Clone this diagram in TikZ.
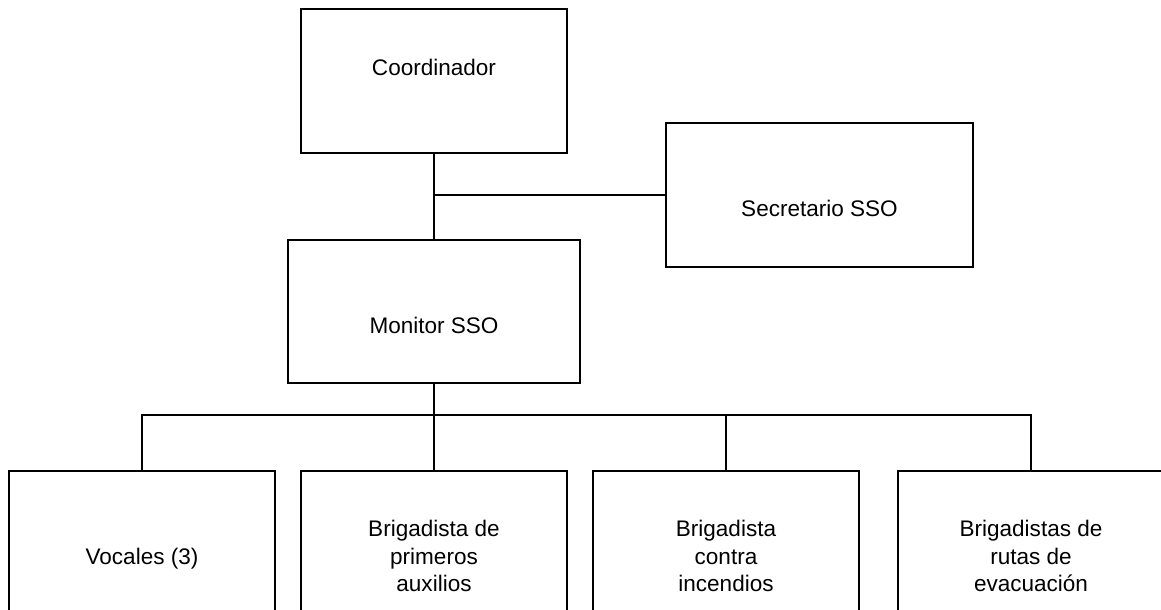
\documentclass[tikz,border=0pt]{standalone}
\usepackage{fontspec}
\setmainfont{Liberation Sans}
\begin{document}
\begin{tikzpicture}[x=0.75pt,y=-0.75pt,
  box/.style={draw=black,line width=1pt,rectangle,inner sep=0pt,fill=white},
  txt/.style={inner sep=0pt,align=center,font=\fontsize{16.9}{20.5}\selectfont},
  conn/.style={draw=black,line width=1pt}]
\useasboundingbox (0,0) rectangle (1161,610);
\clip (0,0) rectangle (1161,610);
% boxes
\node[box,minimum width=266*0.75pt,minimum height=144*0.75pt] (coord) at (434,81) {};
\node[box,minimum width=307*0.75pt,minimum height=144*0.75pt] (sec) at (819.5,195) {};
\node[box,minimum width=292*0.75pt,minimum height=143*0.75pt] (mon) at (434,311.5) {};
\node[box,minimum width=266*0.75pt,minimum height=143*0.75pt] (b1) at (142,542.5) {};
\node[box,minimum width=266*0.75pt,minimum height=143*0.75pt] (b2) at (434,542.5) {};
\node[box,minimum width=266*0.75pt,minimum height=143*0.75pt] (b3) at (726,542.5) {};
\node[box,minimum width=266*0.75pt,minimum height=143*0.75pt] (b4) at (1031,542.5) {};
% texts
\node[txt,anchor=base] (coordt) at (434,76) {Coordinador};
\node[txt,anchor=base] (sect) at (819.5,216) {Secretario SSO};
\node[txt,anchor=base] (mont) at (434,333) {Monitor SSO};
\node[txt,anchor=base] (b1t) at (142,564) {Vocales (3)};
\node[txt] (b2t) at (434,556) {Brigadista de\\primeros\\auxilios};
\node[txt] (b3t) at (726,556) {Brigadista\\contra\\incendios};
\node[txt] (b4t) at (1031,556) {Brigadistas de\\rutas de\\evacuación};
% connectors
\coordinate (j0) at (434,195);
\coordinate (jm) at (783,415);
\coordinate (j4) at (1031,415);
\draw[conn] (coord.south) -- (mon.north);
\draw[conn] (j0) -- (sec.west);
\draw[conn] (mon.south) -- (b2.north);
\draw[conn] (b1.north) |- (jm);
\draw[conn] (b3.north) |- (j4) -- (b4.north);
\end{tikzpicture}
\end{document}
